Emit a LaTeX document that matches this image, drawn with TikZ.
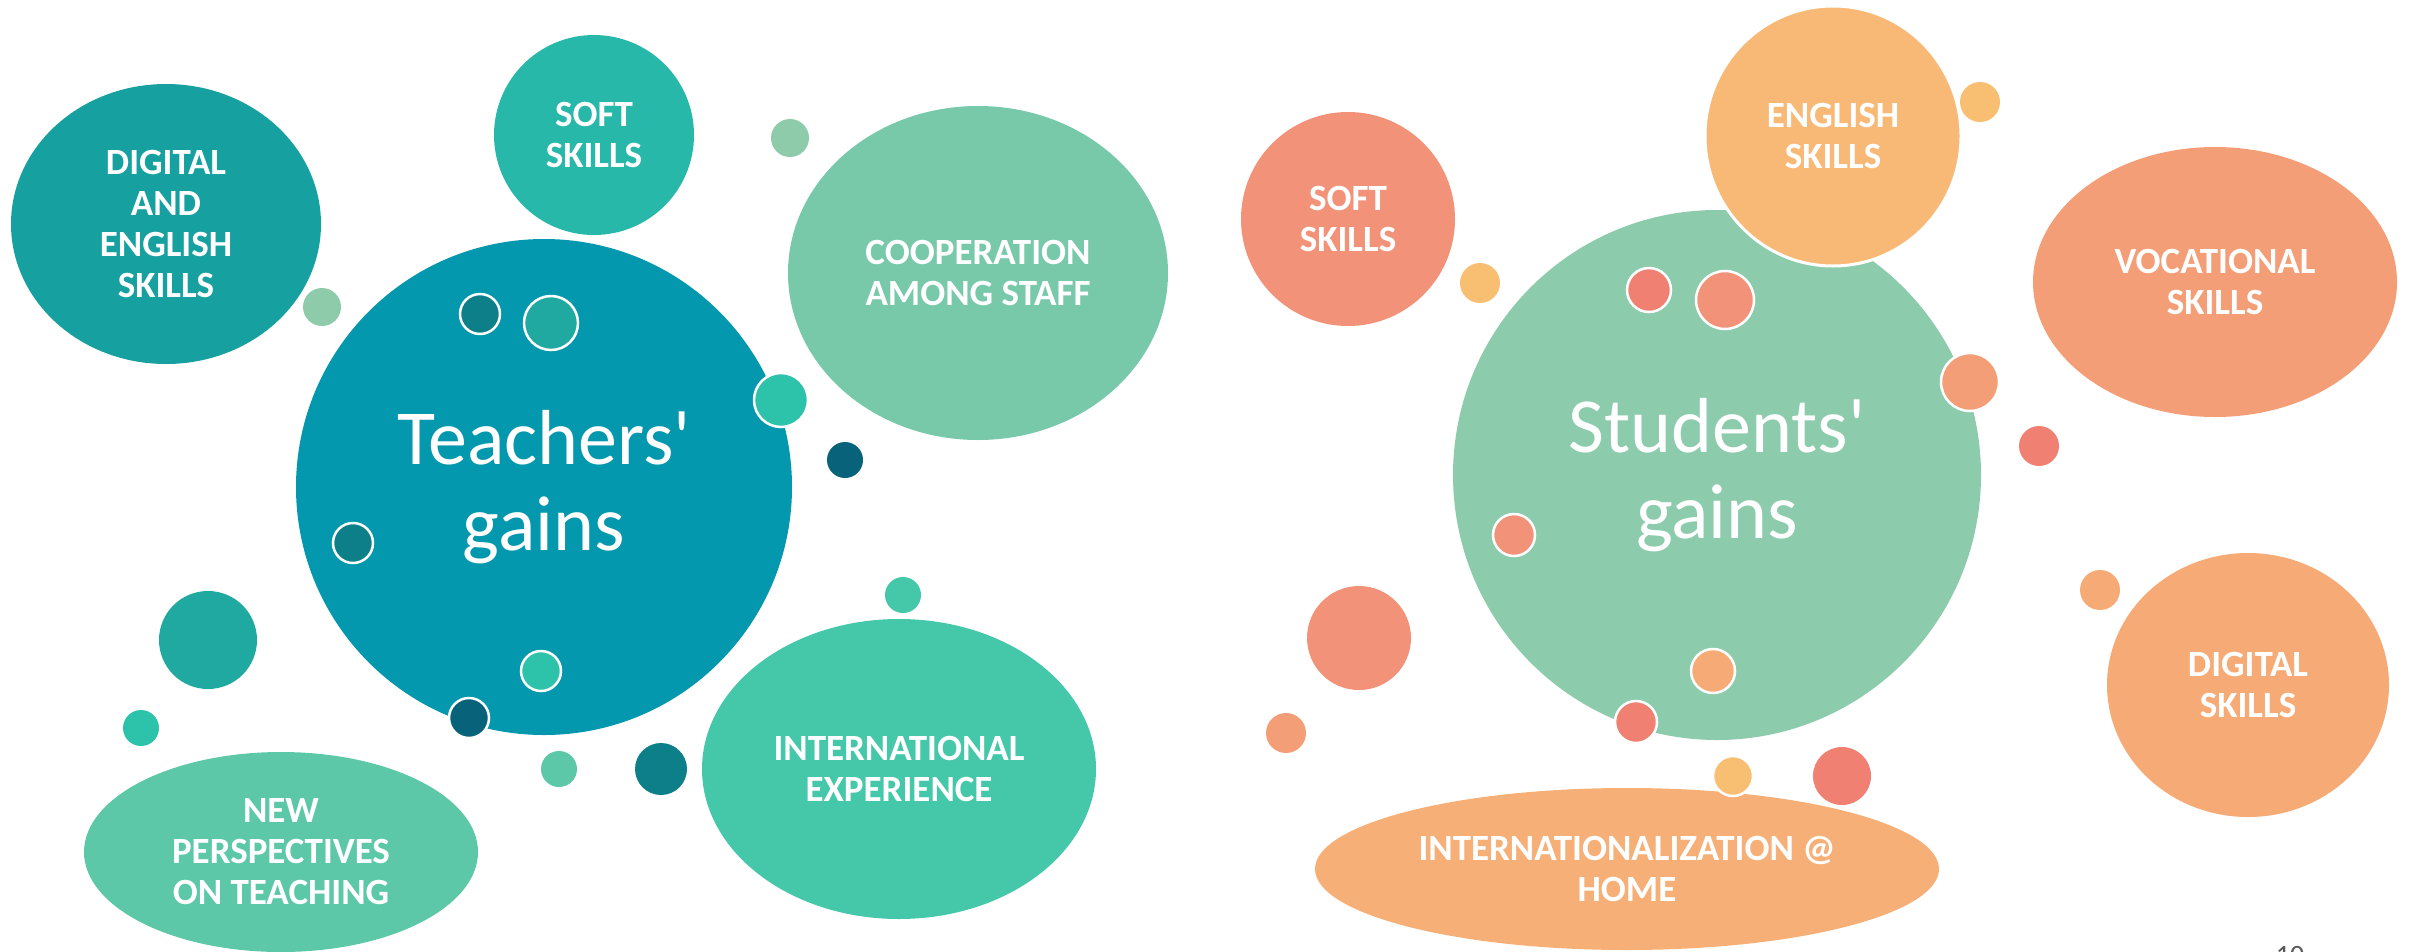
\documentclass[tikz,border=0pt]{standalone}
\usepackage{fontspec}
\setmainfont{Carlito}[Ligatures=TeXOff]
\usetikzlibrary{shapes.geometric,positioning}
% teachers' side
\definecolor{tealmain}{HTML}{0398AD}
\definecolor{tealdigital}{HTML}{17A0A0}
\definecolor{tealsoft}{HTML}{27B8AA}
\definecolor{mintcoop}{HTML}{78C9AA}
\definecolor{mintintl}{HTML}{45C8A9}
\definecolor{mintnew}{HTML}{5CC8A8}
\definecolor{mintlight}{HTML}{8DCBAA}
\definecolor{tealdark}{HTML}{0D7F88}
\definecolor{tealnavy}{HTML}{07627A}
\definecolor{tealmid}{HTML}{1FA9A0}
\definecolor{tealbright}{HTML}{2CC3AA}
% students' side
\definecolor{sage}{HTML}{8DCBAD}
\definecolor{salmon}{HTML}{F29379}
\definecolor{peach}{HTML}{F8B977}
\definecolor{apricot}{HTML}{F49E78}
\definecolor{tangerine}{HTML}{F6AA76}
\definecolor{sand}{HTML}{F6B077}
\definecolor{coral}{HTML}{EF8072}
\definecolor{gold}{HTML}{F8BF72}

\tikzset{
  bubble/.style={ellipse, inner sep=0pt, text=white, align=center,
    font=\bfseries\fontsize{37}{41}\selectfont},
  hub/.style={ellipse, inner sep=0pt, text=white, align=center,
    font=\fontsize{78}{86}\selectfont},
  ringdot/.style={draw=white, line width=2.5pt}
}

\begin{document}
\begin{tikzpicture}[x=1pt, y=-1pt]
    \useasboundingbox (0,0) rectangle (2415,951);
    % Teachers' gains
    \node[hub, fill=tealmain, minimum width=496pt, minimum height=496pt] (teachers) at (544,487) {Teachers'\\gains};
    \node[bubble, fill=tealdigital, minimum width=310pt, minimum height=280pt] (digeng) at (166,224) {DIGITAL\\AND\\ENGLISH\\SKILLS};
    \node[bubble, fill=tealsoft, minimum width=200pt, minimum height=200pt] (tsoft) at (594,135) {SOFT\\SKILLS};
    \node[bubble, fill=mintcoop, minimum width=380pt, minimum height=334pt] (coop) at (978,273) {COOPERATION\\AMONG STAFF};
    \node[bubble, fill=mintintl, minimum width=394pt, minimum height=300pt] (intlexp) at (899,769) {INTERNATIONAL\\EXPERIENCE};
    \node[bubble, fill=mintnew, minimum width=394pt, minimum height=200pt] (newpersp) at (281,852) {NEW\\PERSPECTIVES\\ON TEACHING};
    % Teachers' dots
    \foreach \x/\y/\r/\c in {790/138/19/mintlight, 322/307/19/mintlight, 845/460/18/tealnavy,
        208/640/49/tealmid, 141/728/18/tealbright, 559/769/18/mintnew,
        661/769/26/tealdark, 903/595/18/mintintl} {
        \fill[\c] (\x,\y) circle (\r);
    }
    \foreach \x/\y/\r/\c in {480/314/20/tealdark, 551/323/27/tealmid, 781/400/27/tealbright,
        353/543/20/tealdark, 541/671/20/tealbright, 469/718/20/tealnavy} {
        \filldraw[ringdot, fill=\c] (\x,\y) circle (\r);
    }

    % Students' gains
    \node[hub, fill=sage, minimum width=528pt, minimum height=530pt] (students) at (1717,475) {Students'\\gains};
    \node[bubble, fill=salmon, minimum width=214pt, minimum height=214pt] (ssoft) at (1348,219) {SOFT\\SKILLS};
    \node[bubble, fill=peach, draw=white, line width=3pt, minimum width=256pt, minimum height=260pt] (english) at (1833,136) {ENGLISH\\SKILLS};
    \node[bubble, fill=apricot, minimum width=364pt, minimum height=270pt] (vocational) at (2215,282) {VOCATIONAL\\SKILLS};
    \node[bubble, fill=tangerine, minimum width=282pt, minimum height=264pt] (digital) at (2248,685) {DIGITAL\\SKILLS};
    \node[bubble, fill=sand, minimum width=624pt, minimum height=162pt] (athome) at (1627,869) {INTERNATIONALIZATION @\\HOME};
    % Students' dots
    \foreach \x/\y/\r/\c in {1980/102/20/gold, 1480/283/20/gold, 2039/446/20/coral,
        1359/638/52/salmon, 1286/733/20/apricot, 1842/776/29/coral, 2100/590/20/tangerine} {
        \fill[\c] (\x,\y) circle (\r);
    }
    \foreach \x/\y/\r/\c in {1649/290/22/coral, 1725/300/29/salmon, 1970/382/29/apricot,
        1514/535/21/salmon, 1713/671/22/tangerine, 1636/722/21/coral, 1733/776/20/gold} {
        \filldraw[ringdot, fill=\c] (\x,\y) circle (\r);
    }

    % page number
    \node[anchor=base, text=black!65, font=\fontsize{28}{30}\selectfont] (pagenum) at (2290,964) {10};
\end{tikzpicture}
\end{document}
